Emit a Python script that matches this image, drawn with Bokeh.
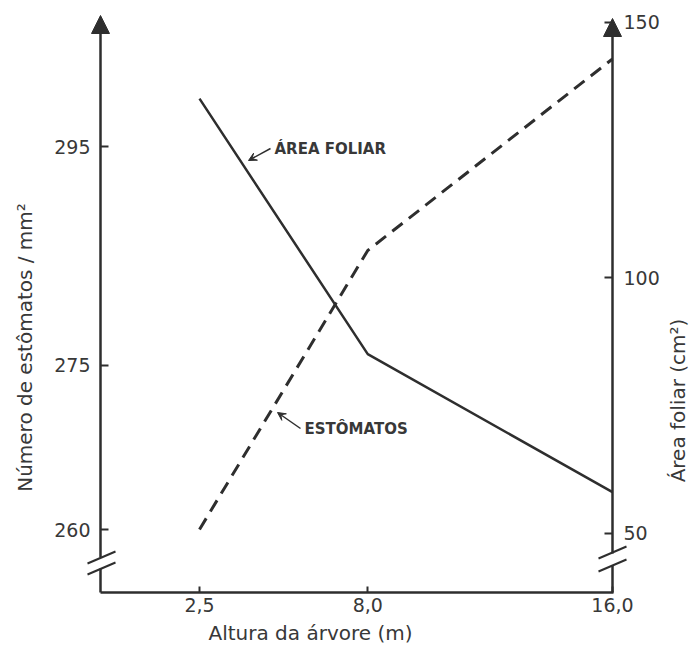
import math
from bokeh.plotting import figure
from bokeh.models import Range1d, LinearAxis, FixedTicker, Label, Arrow, VeeHead, NormalHead
from bokeh.embed import file_html
from bokeh.resources import INLINE

# ---- data ----
altura = [2.5, 8.0, 16.0]                 # Altura da árvore (m)
estomatos = [260.0, 285.5, 303.0]         # Número de estômatos / mm² (left axis)
area_foliar = [135.0, 85.0, 58.0]         # Área foliar (cm²) (right axis)
x_ticks = [2.5, 8.0, 16.0]
x_tick_labels = ["2,5", "8,0", "16,0"]
left_ticks = [260, 275, 295]
right_ticks = [50, 100, 150]

# ---- geometry: canvas pixels mapped to the three scales ----
W, H = 690, 645
SX = (612 - 199) / (16.0 - 2.5)
SL = (529 - 146) / (295 - 260)
SR = 5.11


def gx(px):
    return 2.5 + (px - 199) / SX


def gy(py):
    return 295 + (146 - py) / SL


def gr(py):
    return 100 + (277 - py) / SR


INK = "#2e2e2e"
TXT = "#383838"
FONT = "DejaVu Sans"

p = figure(width=W, height=H, x_range=Range1d(gx(0), gx(W)), y_range=Range1d(gy(H), gy(0)),
           output_backend="svg", toolbar_location=None, min_border=0)
p.title.visible = False
p.grid.visible = False
p.outline_line_color = None
p.background_fill_color = "#ffffff"
p.border_fill_color = "#ffffff"

p.extra_y_ranges = {"area": Range1d(gr(H), gr(0))}
ax_r = LinearAxis(y_range_name="area")
p.add_layout(ax_r, "right")

p.xaxis.ticker = FixedTicker(ticks=x_ticks)
p.xaxis.major_label_overrides = {t: s for t, s in zip(x_ticks, x_tick_labels)}
p.yaxis[0].ticker = FixedTicker(ticks=left_ticks)
ax_r.ticker = FixedTicker(ticks=right_ticks)

p.xaxis.fixed_location = gy(592)
p.xaxis.bounds = (gx(100), gx(613))
p.yaxis[0].fixed_location = gx(100)
ax_r.fixed_location = gx(612)

for ax in [p.xaxis[0], p.yaxis[0], ax_r]:
    ax.major_label_text_font = FONT
    ax.major_label_text_font_size = "19px"
    ax.major_label_text_color = TXT
    ax.minor_tick_line_color = None
    ax.major_tick_out = 0
    ax.major_tick_in = 8
    ax.major_tick_line_width = 2
    ax.major_tick_line_color = INK
    ax.axis_line_color = INK
    ax.axis_line_width = 2.5

p.xaxis.major_tick_in = 6
p.xaxis.major_label_standoff = 5
p.yaxis[0].axis_line_color = None
p.yaxis[0].major_label_standoff = 10
ax_r.axis_line_color = None
ax_r.major_label_standoff = 11

# ---- data lines ----
p.line(altura, estomatos, line_color=INK, line_width=3, line_dash="13 8")
p.line(altura, area_foliar, line_color=INK, line_width=2.5, y_range_name="area")


# ---- axis lines with breaks and arrow heads ----
def seg(x1, y1, x2, y2, w=2.5, head=None):
    p.add_layout(Arrow(x_start=gx(x1), y_start=gy(y1), x_end=gx(x2), y_end=gy(y2),
                       line_color=INK, line_width=w, end=head))


seg(100, 592, 100, 568)
seg(100, 557, 100, 15, head=NormalHead(size=18, fill_color=INK, line_color=INK, line_width=1))
seg(612, 592, 612, 565)
seg(612, 553, 612, 18, head=NormalHead(size=18, fill_color=INK, line_color=INK, line_width=1))
for cx, cy in [(101, 557), (101, 568), (612, 552), (612, 565)]:
    seg(cx - 14, cy + 6, cx + 14, cy - 6, w=2)


# ---- texts ----
def lab(px, py, text, size="20px", angle=0.0, align="center", style="normal"):
    p.add_layout(Label(x=gx(px), y=gy(py), text=text, angle=angle, text_align=align,
                       text_baseline="middle", text_font=FONT, text_font_size=size,
                       text_font_style=style, text_color=TXT))


lab(24, 347, "Número de estômatos / mm²", angle=math.pi / 2)
lab(677, 400, "Área foliar (cm²)", angle=math.pi / 2)
lab(310, 632, "Altura da árvore (m)")
lab(274, 148, "ÁREA FOLIAR", size="15px", align="left", style="bold")
lab(304, 428, "ESTÔMATOS", size="15px", align="left", style="bold")

p.add_layout(Arrow(x_start=gx(270), y_start=gy(148), x_end=gx(248), y_end=gy(160),
                   line_color=INK, line_width=1.5,
                   end=VeeHead(size=8, fill_color=INK, line_color=INK)))
p.add_layout(Arrow(x_start=gx(300), y_start=gy(428), x_end=gx(277), y_end=gy(412),
                   line_color=INK, line_width=1.5,
                   end=VeeHead(size=8, fill_color=INK, line_color=INK)))

open("out.html", "w").write(file_html(p, INLINE))
